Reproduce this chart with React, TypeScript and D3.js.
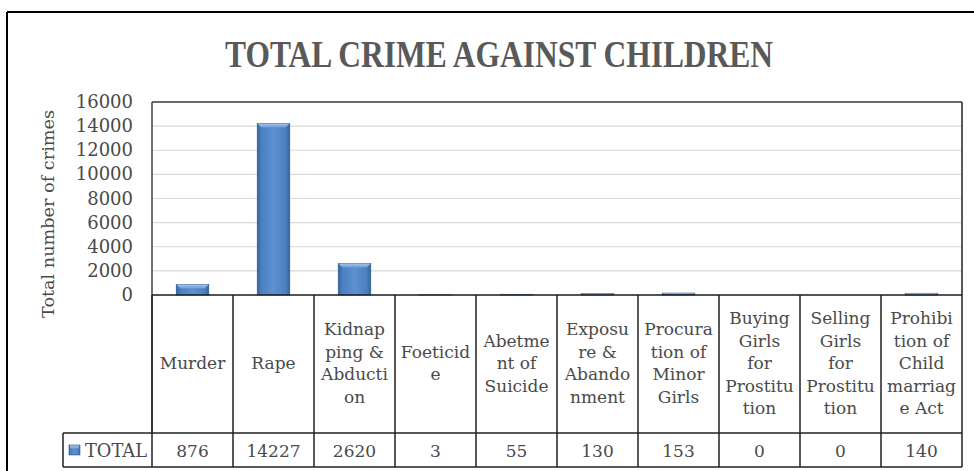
import React from "react";
import * as d3 from "d3";

const title = "TOTAL CRIME AGAINST CHILDREN";
const yAxisTitle = "Total number of crimes";
const seriesName = "TOTAL";
const categories = [
  "Murder",
  "Rape",
  "Kidnap\nping &\nAbducti\non",
  "Foeticid\ne",
  "Abetme\nnt of\nSuicide",
  "Exposu\nre &\nAbando\nnment",
  "Procura\ntion of\nMinor\nGirls",
  "Buying\nGirls\nfor\nProstitu\ntion",
  "Selling\nGirls\nfor\nProstitu\ntion",
  "Prohibi\ntion of\nChild\nmarriag\ne Act",
];
const values = [876, 14227, 2620, 3, 55, 130, 153, 0, 0, 140];
const valueLabels = ["876", "14227", "2620", "3", "55", "130", "153", "0", "0", "140"];
const yTicks = [0, 2000, 4000, 6000, 8000, 10000, 12000, 14000, 16000];

const W = 974;
const H = 471;
const plotL = 152;
const plotR = 962;
const plotT = 102;
const plotB = 295;
const catRowB = 433;
const valRowB = 467;
const legendL = 63;
const serif = "'DejaVu Serif', serif";
const textColor = "#4a4a4a";

export default function App() {
  const x = d3.scaleBand<number>().domain(d3.range(categories.length)).range([plotL, plotR]).padding(0);
  const y = d3.scaleLinear().domain([0, 16000]).range([plotB, plotT]);
  const bw = x.bandwidth() * 0.4;

  return (
    <svg width={W} height={H} style={{ position: "absolute", left: 0, top: 0, background: "#fff" }}>
      <defs>
        <linearGradient id="barG" x1="0" x2="1" y1="0" y2="0">
          <stop offset="0" stopColor="#35649f" />
          <stop offset="0.12" stopColor="#4a7fc0" />
          <stop offset="0.5" stopColor="#5b90d1" />
          <stop offset="0.88" stopColor="#4a7fc0" />
          <stop offset="1" stopColor="#35649f" />
        </linearGradient>
        <linearGradient id="bevG" x1="0" x2="0" y1="0" y2="1">
          <stop offset="0" stopColor="#a9c6ec" />
          <stop offset="1" stopColor="#6d9bd6" />
        </linearGradient>
      </defs>
      <rect x={0} y={0} width={W} height={H} fill="#fff" />
      {/* outer frame */}
      <line x1={7} x2={W} y1={12} y2={12} stroke="#000" strokeWidth={2} />
      <line x1={7} x2={7} y1={12} y2={H} stroke="#000" strokeWidth={2} />

      {/* title */}
      <text x={499} y={67} textAnchor="middle" fontFamily="'Liberation Serif', serif" fontWeight="bold"
        fontSize={37} fill="#595959" textLength={548} lengthAdjust="spacingAndGlyphs">{title}</text>

      {/* gridlines */}
      {yTicks.map((t) => (
        <line key={"g" + t} x1={plotL} x2={plotR} y1={y(t)} y2={y(t)} stroke="#d9d9d9" strokeWidth={1.2} />
      ))}
      {/* y tick labels */}
      {yTicks.map((t) => (
        <text key={"t" + t} x={133} y={y(t) + 6} textAnchor="end" fontFamily={serif} fontSize={18} fill={textColor}>{t}</text>
      ))}
      {/* y axis title */}
      <text transform={`translate(54, ${214}) rotate(-90)`} textAnchor="middle" fontFamily={serif}
        fontSize={16} fill={textColor} textLength={208} lengthAdjust="spacingAndGlyphs">{yAxisTitle}</text>

      {/* bars */}
      {values.map((v, i) => {
        const bx = (x(i) as number) + (x.bandwidth() - bw) / 2;
        const top = y(v);
        const h = plotB - top;
        if (h <= 0) return null;
        const bev = Math.min(4, h / 2);
        return (
          <g key={"b" + i}>
            <rect x={bx} y={top} width={bw} height={h} fill="url(#barG)" stroke="#2f5b93" strokeWidth={0.8} />
            <polygon points={`${bx},${top} ${bx + bw},${top} ${bx + bw - bev},${top + bev} ${bx + bev},${top + bev}`}
              fill="url(#bevG)" />
          </g>
        );
      })}

      {/* plot border */}
      <line x1={plotL} x2={plotR} y1={plotT} y2={plotT} stroke="#404040" strokeWidth={1.5} />
      <line x1={plotR} x2={plotR} y1={plotT} y2={valRowB} stroke="#202020" strokeWidth={1.5} />
      <line x1={plotL} x2={plotL} y1={plotT} y2={catRowB} stroke="#404040" strokeWidth={1.5} />

      {/* table */}
      <line x1={plotL} x2={plotR} y1={plotB} y2={plotB} stroke="#202020" strokeWidth={1.5} />
      <line x1={legendL} x2={plotR} y1={catRowB} y2={catRowB} stroke="#202020" strokeWidth={1.5} />
      <line x1={legendL} x2={plotR} y1={valRowB} y2={valRowB} stroke="#202020" strokeWidth={1.5} />
      <line x1={legendL} x2={legendL} y1={catRowB} y2={valRowB} stroke="#202020" strokeWidth={1.5} />
      {categories.map((c, i) => (
        <line key={"v" + i} x1={x(i) as number} x2={x(i) as number} y1={plotB} y2={valRowB} stroke="#202020" strokeWidth={1.5} />
      ))}
      {categories.map((c, i) => {
        const lines = c.split("\n");
        const cx = (x(i) as number) + x.bandwidth() / 2;
        const lh = 22.5;
        const cy = (plotB + catRowB) / 2 - 1;
        const y0 = cy - ((lines.length - 1) * lh) / 2;
        return (
          <text key={"c" + i} textAnchor="middle" fontFamily={serif} fontSize={17} fill={textColor}>
            {lines.map((l, j) => (
              <tspan key={j} x={cx} y={y0 + j * lh + 6}>{l}</tspan>
            ))}
          </text>
        );
      })}
      {valueLabels.map((v, i) => (
        <text key={"n" + i} x={(x(i) as number) + x.bandwidth() / 2} y={(catRowB + valRowB) / 2 + 7}
          textAnchor="middle" fontFamily={serif} fontSize={17} fill={textColor}>{v}</text>
      ))}
      {/* legend */}
      <rect x={69} y={445} width={11} height={10} fill="url(#barG)" stroke="#2f5b93" strokeWidth={0.6} />
      <rect x={70} y={445.5} width={9} height={3} fill="url(#bevG)" />
      <text x={85} y={457} fontFamily={serif} fontSize={18} fill={textColor} textLength={62} lengthAdjust="spacingAndGlyphs">{seriesName}</text>
    </svg>
  );
}
